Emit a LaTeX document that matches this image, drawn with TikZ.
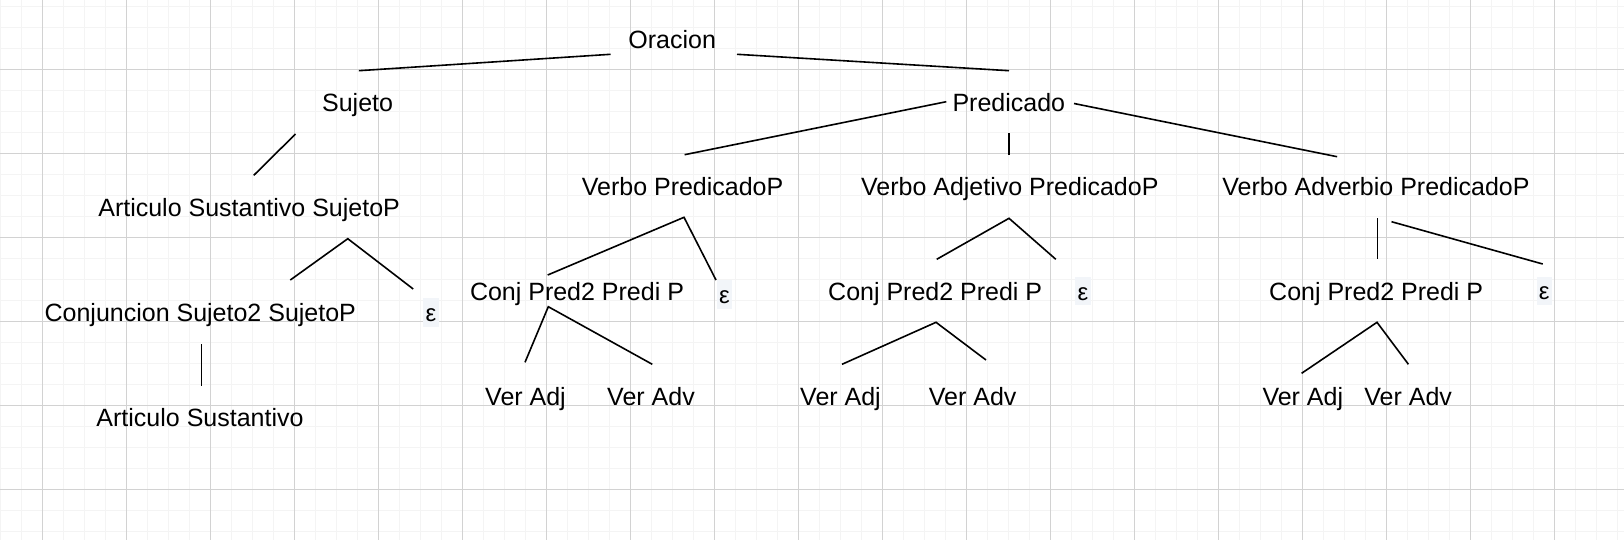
\documentclass[tikz,border=0pt]{standalone}
\usepackage{fontspec}
\setmainfont{Liberation Sans}
\definecolor{gridminor}{RGB}{244,244,244}
\definecolor{gridmajor}{RGB}{210,210,210}
\definecolor{epsbg}{RGB}{242,245,249}
\begin{document}
\begin{tikzpicture}[x=0.75pt,y=-0.75pt,
  lbl/.style={anchor=base,inner sep=0pt,font=\fontsize{18.75}{22}\selectfont},
  epsnode/.style={fill=epsbg,inner sep=0pt,minimum width=11.5pt,minimum height=21.3pt,text height=13.5pt,text depth=0pt,font=\fontsize{18}{22}\selectfont},
  edge/.style={line width=1.2pt,black}]
\useasboundingbox (0,0) rectangle (1624,540);
\fill[white] (0,0) rectangle (1624,540);
% grid
\foreach \i in {0,...,77} {\draw[gridminor,line width=1.1pt] (0.4+21*\i,0) -- (0.4+21*\i,540);}
\foreach \j in {0,...,25} {\draw[gridminor,line width=1.1pt] (0,6.3+21*\j) -- (1624,6.3+21*\j);}
\foreach \i in {0,...,18} {\draw[gridmajor,line width=0.75pt] (42.4+84*\i,0) -- (42.4+84*\i,540);}
\foreach \j in {0,...,5} {\draw[gridmajor,line width=0.75pt] (0,69.3+84*\j) -- (1624,69.3+84*\j);}
% labels
\node[lbl] (oracion) at (672.2,48.3) {Oracion};
\node[lbl] (sujeto) at (357.6,111.7) {Sujeto};
\node[lbl] (predicado) at (1008.8,111.7) {Predicado};
\node[lbl] (asp) at (249.1,216.7) {Articulo Sustantivo SujetoP};
\node[lbl] (csp) at (200.3,321) {Conjuncion Sujeto2 SujetoP};
\node[epsnode] (eps1) at (431,312.5) {ε};
\node[lbl] (as) at (200,426) {Articulo Sustantivo};
\node[lbl] (vp) at (682.6,195) {Verbo PredicadoP};
\node[lbl] (vap) at (1009.8,195) {Verbo Adjetivo PredicadoP};
\node[lbl] (vavp) at (1376,195) {Verbo Adverbio PredicadoP};
\node[lbl] (cpp1) at (577,300.7) {Conj Pred2 Predi P};
\node[epsnode] (eps2) at (724.5,294.3) {ε};
\node[lbl] (cpp2) at (935.2,300.7) {Conj Pred2 Predi P};
\node[epsnode] (eps3) at (1083,291.2) {ε};
\node[lbl] (cpp3) at (1376.2,300.7) {Conj Pred2 Predi P};
\node[epsnode] (eps4) at (1544.3,290.9) {ε};
\node[lbl] (va1) at (525.5,405) {Ver Adj};
\node[lbl] (vd1) at (651,405) {Ver Adv};
\node[lbl] (va2) at (840.5,405) {Ver Adj};
\node[lbl] (vd2) at (972.7,405) {Ver Adv};
\node[lbl] (va3) at (1302.8,405) {Ver Adj};
\node[lbl] (vd3) at (1408.2,405) {Ver Adv};
% connector end points
\coordinate (oS) at (610.6,54.3);   \coordinate (Sa) at (358.8,70.7);
\coordinate (oP) at (737,54.3);     \coordinate (Pa) at (1009,70.7);
\coordinate (sA) at (295.5,134);    \coordinate (aS) at (253.8,175.3);
\coordinate (aspT) at (347.8,238.7);
\coordinate (cspT) at (290.3,280);  \coordinate (eps1T) at (413.2,289);
\coordinate (cspB) at (201.4,344);  \coordinate (asT) at (201.4,385.7);
\coordinate (pL) at (946.3,101.7);  \coordinate (vpT) at (684.6,154.7);
\coordinate (pM) at (1009,133.3);   \coordinate (vapT) at (1009,154.7);
\coordinate (pR) at (1074,103.5);   \coordinate (vavpT) at (1337.1,156.7);
\coordinate (vpB) at (684,217.3);
\coordinate (cpp1T) at (547.7,275); \coordinate (eps2T) at (716,280);
\coordinate (cpp1B) at (548.3,306.7);
\coordinate (va1T) at (525,362.3);  \coordinate (vd1T) at (652.3,364.3);
\coordinate (vapB) at (1009,218.3);
\coordinate (cpp2T) at (936.7,259.3); \coordinate (eps3T) at (1055.8,259.3);
\coordinate (cpp2B) at (936,322.3);
\coordinate (va2T) at (842,364.3);  \coordinate (vd2T) at (986,360);
\coordinate (vavpB) at (1377.4,218.3); \coordinate (cpp3T) at (1377.4,259.3);
\coordinate (vavpB2) at (1391.5,221.7); \coordinate (eps4T) at (1542.7,264);
\coordinate (cpp3B) at (1377,322.3);
\coordinate (va3T) at (1301.6,373.3); \coordinate (vd3T) at (1408.4,364.3);
% connectors
\draw[edge] (oS) -- (Sa);
\draw[edge] (oP) -- (Pa);
\draw[edge] (sA) -- (aS);
\draw[edge] (cspT) -- (aspT) -- (eps1T);
\draw[edge] (cspB) -- (asT);
\draw[edge] (pL) -- (vpT);
\draw[edge] (pM) -- (vapT);
\draw[edge] (pR) -- (vavpT);
\draw[edge] (cpp1T) -- (vpB) -- (eps2T);
\draw[edge] (va1T) -- (cpp1B) -- (vd1T);
\draw[edge] (cpp2T) -- (vapB) -- (eps3T);
\draw[edge] (va2T) -- (cpp2B) -- (vd2T);
\draw[edge] (vavpB) -- (cpp3T);
\draw[edge] (vavpB2) -- (eps4T);
\draw[edge] (va3T) -- (cpp3B) -- (vd3T);
\end{tikzpicture}
\end{document}
